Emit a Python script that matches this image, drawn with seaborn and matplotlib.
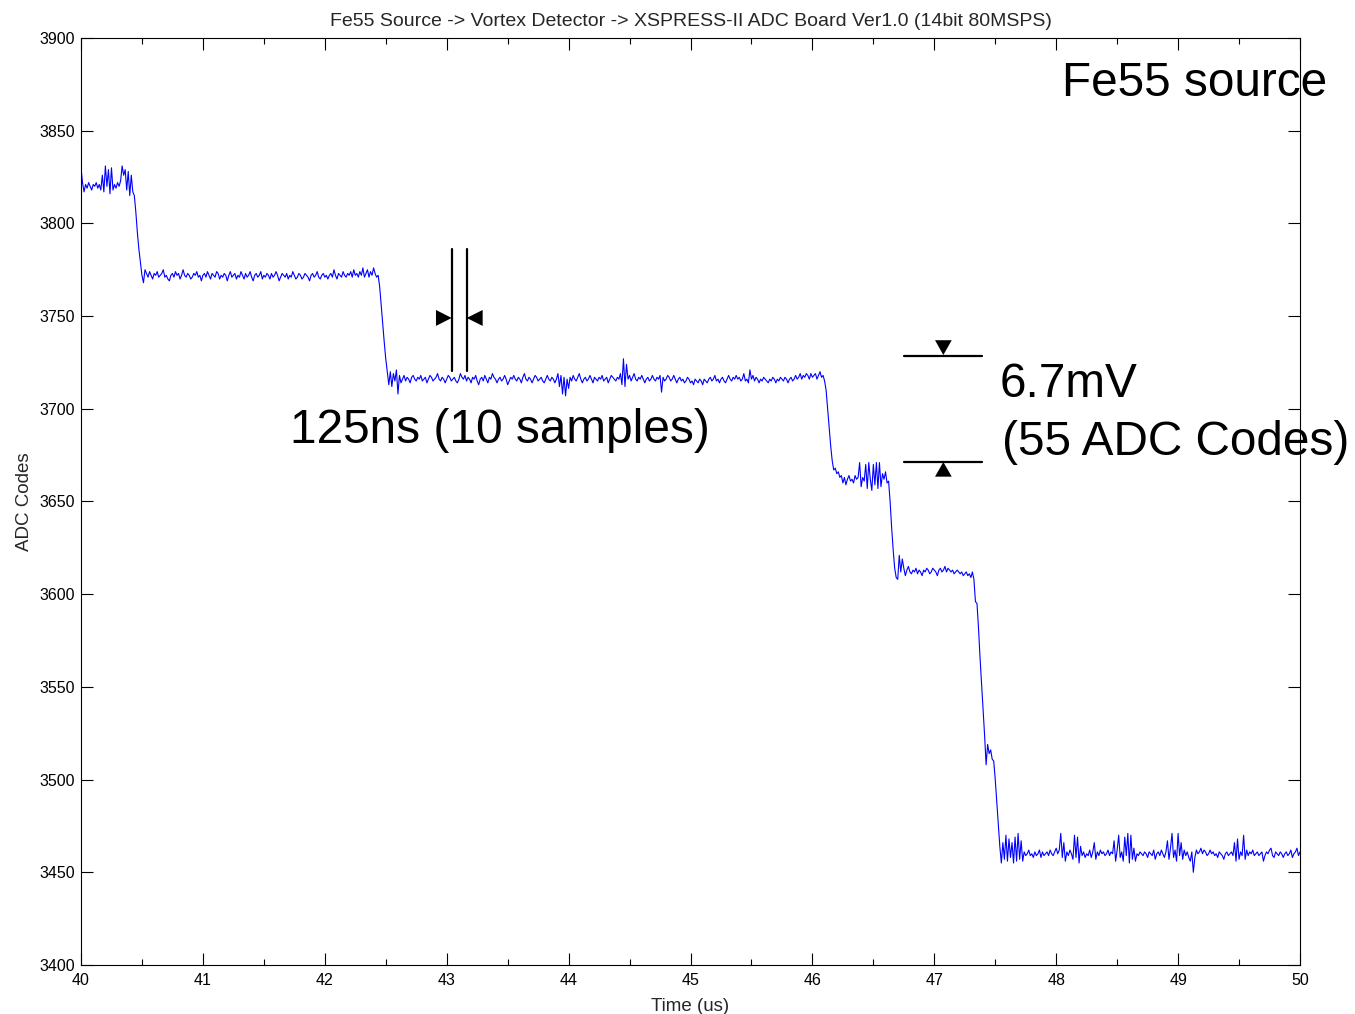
import numpy as np
import matplotlib
matplotlib.use("Agg")
import matplotlib.pyplot as plt
from matplotlib.ticker import MultipleLocator
import seaborn as sns

# ADC samples (80 MSPS -> 12.5 ns per sample, starting at 40 us)
t_start = 40.0
t_step = 0.0125

level_3820 = [3830, 3822, 3817, 3821, 3819, 3822, 3820, 3818, 3821, 3820,
              3822, 3819, 3821, 3818, 3826, 3817, 3831, 3820, 3829, 3816,
              3830, 3818, 3821, 3819, 3822, 3820, 3823, 3831, 3826, 3829,
              3818, 3828, 3815, 3826, 3817]
step_1 = [3815, 3806, 3795, 3786, 3779, 3772, 3768, 3775]
level_3772 = [3773, 3771, 3774, 3772, 3770, 3773, 3772, 3774, 3771, 3772,
              3773, 3775, 3771, 3772, 3770, 3769, 3772, 3773, 3771, 3774,
              3772, 3773, 3770, 3772, 3775, 3772, 3771, 3773, 3772, 3770,
              3771, 3773, 3772, 3774, 3771, 3772, 3769, 3772, 3773, 3771,
              3774, 3772, 3770, 3773, 3772, 3771, 3774, 3773, 3770, 3772,
              3771, 3773, 3772, 3769, 3772, 3774, 3771, 3772, 3773, 3770,
              3772, 3771, 3774, 3772, 3770, 3773, 3771, 3772, 3774, 3771,
              3769, 3772, 3773, 3771, 3772, 3774, 3770, 3772, 3771, 3773,
              3772, 3770, 3773, 3771, 3772, 3774, 3772, 3769, 3771, 3773,
              3772, 3771, 3773, 3770, 3772, 3771, 3774, 3772, 3770, 3771,
              3773, 3772, 3770, 3771, 3773, 3772, 3771, 3769, 3772, 3773,
              3771, 3772, 3774, 3771, 3770, 3772, 3773, 3771, 3772, 3770,
              3772, 3773, 3771, 3775, 3772, 3770, 3773, 3772, 3771, 3774,
              3772, 3771, 3773, 3772, 3774, 3771, 3775, 3772, 3773, 3771,
              3774, 3772, 3776, 3771, 3773, 3775, 3771, 3774, 3772, 3776,
              3773, 3771, 3772]
step_2 = [3766, 3756, 3746, 3736, 3727, 3720, 3713, 3720, 3712, 3719,
          3715, 3721, 3708, 3718, 3714]
level_3716 = [3716, 3718, 3715, 3717, 3716, 3714, 3717, 3718, 3716, 3715,
              3717, 3716, 3718, 3715, 3716, 3717, 3714, 3716, 3718, 3717,
              3715, 3716, 3717, 3719, 3716, 3715, 3717, 3716, 3714, 3716,
              3718, 3717, 3715, 3716, 3717, 3715, 3714, 3716, 3719, 3717,
              3716, 3718, 3715, 3717, 3716, 3714, 3717, 3716, 3718, 3715,
              3713, 3716, 3717, 3715, 3718, 3716, 3714, 3717, 3716, 3719,
              3717, 3716, 3714, 3716, 3717, 3715, 3716, 3718, 3716, 3713,
              3715, 3717, 3716, 3718, 3716, 3715, 3717, 3716, 3714, 3717,
              3719, 3716, 3715, 3717, 3716, 3714, 3716, 3718, 3717, 3715,
              3716, 3717, 3715, 3714, 3716, 3718, 3716, 3715, 3717, 3716,
              3714, 3716, 3719, 3712, 3718, 3708, 3717, 3707, 3716, 3711,
              3717, 3715, 3718, 3716, 3715, 3717, 3719, 3716, 3714, 3716,
              3717, 3715, 3716, 3718, 3716, 3714, 3717, 3716, 3715, 3717,
              3716, 3718, 3715, 3716, 3717, 3714, 3716, 3718, 3717, 3716,
              3715, 3717, 3716, 3719, 3713, 3727, 3712, 3724, 3716, 3718,
              3715, 3717, 3719, 3716, 3715, 3717, 3716, 3718, 3716, 3714,
              3716, 3717, 3715, 3716, 3718, 3716, 3715, 3717, 3716, 3718,
              3709, 3717, 3715, 3716, 3718, 3717, 3715, 3716, 3718, 3716,
              3714, 3716, 3717, 3715, 3716, 3714, 3715, 3717, 3716, 3714,
              3715, 3713, 3716, 3715, 3714, 3716, 3715, 3713, 3716, 3715,
              3714, 3716, 3717, 3715, 3716, 3718, 3715, 3716, 3714, 3716,
              3717, 3715, 3714, 3716, 3718, 3716, 3715, 3717, 3716, 3718,
              3716, 3717, 3715, 3716, 3719, 3715, 3716, 3714, 3721, 3716,
              3718, 3715, 3717, 3716, 3714, 3716, 3715, 3717, 3716, 3715,
              3714, 3716, 3715, 3717, 3716, 3714, 3716, 3715, 3717, 3716,
              3715, 3717, 3716, 3714, 3716, 3717, 3715, 3716, 3718, 3716,
              3717, 3719, 3716, 3718, 3717, 3719, 3718, 3716, 3719, 3717,
              3718, 3719, 3716, 3718, 3720, 3717, 3718, 3715]
step_3 = [3710, 3700, 3690, 3680, 3672, 3667, 3668]
level_3663 = [3665, 3666, 3663, 3664, 3660, 3663, 3659, 3662, 3664, 3661,
              3662, 3660, 3664, 3662, 3663, 3671, 3658, 3663, 3661, 3670,
              3657, 3671, 3662, 3656, 3670, 3659, 3671, 3657, 3671, 3658,
              3665, 3662, 3666, 3660]
step_4 = [3661, 3650, 3636, 3624, 3614, 3609]
level_3612 = [3608, 3621, 3612, 3619, 3614, 3610, 3613, 3615, 3612, 3611,
              3613, 3612, 3614, 3611, 3613, 3612, 3610, 3613, 3612, 3614,
              3613, 3611, 3612, 3614, 3613, 3612, 3610, 3613, 3614, 3612,
              3613, 3615, 3612, 3614, 3613, 3612, 3613, 3611, 3612, 3613,
              3612, 3611, 3612, 3610, 3611, 3612, 3610, 3611, 3609, 3612,
              3608]
step_5 = [3596, 3595, 3582, 3566, 3552, 3538, 3524, 3508, 3519, 3514,
          3516, 3511, 3510, 3500, 3488, 3476, 3464, 3455, 3466]
level_3460 = [3457, 3470, 3456, 3468, 3458, 3466, 3455, 3469, 3456, 3471,
              3457, 3467, 3456, 3461, 3459, 3460, 3462, 3459, 3460, 3458,
              3461, 3459, 3460, 3462, 3458, 3461, 3459, 3460, 3461, 3459,
              3462, 3460, 3459, 3461, 3463, 3460, 3462, 3471, 3458, 3466,
              3456, 3461, 3459, 3462, 3460, 3457, 3470, 3458, 3469, 3455,
              3464, 3459, 3461, 3458, 3460, 3459, 3462, 3458, 3461, 3466,
              3457, 3461, 3459, 3462, 3460, 3461, 3459, 3460, 3462, 3459,
              3461, 3460, 3467, 3456, 3462, 3470, 3458, 3461, 3456, 3469,
              3459, 3471, 3455, 3470, 3457, 3463, 3456, 3460, 3459, 3461,
              3460, 3459, 3461, 3460, 3458, 3461, 3460, 3459, 3462, 3457,
              3460, 3461, 3459, 3462, 3460, 3458, 3461, 3467, 3457, 3463,
              3471, 3458, 3462, 3456, 3471, 3459, 3466, 3457, 3462, 3459,
              3461, 3458, 3456, 3461, 3450, 3458, 3462, 3460, 3461, 3463,
              3460, 3462, 3461, 3459, 3460, 3462, 3460, 3461, 3459, 3460,
              3458, 3461, 3460, 3459, 3457, 3460, 3461, 3459, 3460, 3461,
              3459, 3466, 3456, 3468, 3457, 3461, 3459, 3470, 3457, 3462,
              3459, 3461, 3460, 3462, 3459, 3460, 3461, 3459, 3460, 3461,
              3456, 3459, 3461, 3460, 3462, 3463, 3459, 3458, 3461, 3460,
              3459, 3461, 3460, 3458, 3460, 3461, 3459, 3460, 3462, 3458,
              3460, 3461, 3463, 3459, 3461]

x_ticks = [40, 41, 42, 43, 44, 45, 46, 47, 48, 49, 50]
y_ticks = [3400, 3450, 3500, 3550, 3600, 3650, 3700, 3750, 3800, 3850, 3900]

title = "Fe55 Source -> Vortex Detector -> XSPRESS-II ADC Board Ver1.0 (14bit 80MSPS)"

adc = np.array(level_3820 + step_1 + level_3772 + step_2 + level_3716 + step_3
               + level_3663 + step_4 + level_3612 + step_5 + level_3460)
t_us = t_start + np.arange(len(adc)) * t_step

sns.set_style("ticks")
plt.rcParams["font.family"] = ["Liberation Sans", "DejaVu Sans"]

W, H = 1355, 1014
fig = plt.figure(figsize=(W / 100, H / 100), dpi=100)
ax = fig.add_axes([81 / W, 1 - 965 / H, (1300 - 81) / W, (965 - 38) / H])

sns.lineplot(x=t_us, y=adc, ax=ax, color="#0000ff", linewidth=0.8,
             estimator=None, sort=False)

ax.set_xlim(40, 50)
ax.set_ylim(3400, 3900)
ax.set_xticks(x_ticks)
ax.set_yticks(y_ticks)
ax.xaxis.set_minor_locator(MultipleLocator(0.5))
ax.tick_params(which="both", direction="in", top=True, right=True,
               colors="black", labelsize=11.5, width=0.8)
ax.tick_params(which="major", length=8.5)
ax.tick_params(which="minor", length=4.5)
ax.tick_params(axis="x", pad=6)
ax.tick_params(axis="y", pad=4)
for sp in ax.spines.values():
    sp.set_visible(True)
    sp.set_color("black")
    sp.set_linewidth(0.8)

ax.set_title(title, fontsize=14, pad=9)
ax.set_xlabel("Time (us)", fontsize=13.5, labelpad=7)
ax.set_ylabel("ADC Codes", fontsize=13.5, labelpad=5)

# 125 ns markers
for xv in [43.041, 43.164]:
    ax.plot([xv, xv], [3720.4, 3786.2], color="black", lw=1.6)
ax.fill([42.912, 42.912, 43.041], [3753.3, 3744.7, 3749.0], color="black", lw=0)
ax.fill([43.295, 43.295, 43.164], [3753.3, 3744.7, 3749.0], color="black", lw=0)

# 55 code markers
for yv in [3728.6, 3671.5]:
    ax.plot([46.754, 47.389], [yv, yv], color="black", lw=1.6)
ax.fill([47.006, 47.143, 47.074], [3737.0, 3737.0, 3729.0], color="black", lw=0)
ax.fill([47.006, 47.143, 47.074], [3663.4, 3663.4, 3671.3], color="black", lw=0)


def px(x, y):
    return x / W, 1 - y / H


big = dict(fontsize=34.4, color="black", va="baseline", ha="left")
fig.text(*px(1062, 96), "Fe55 source", **big)
fig.text(*px(290, 443), "125ns (10 samples)", **big)
fig.text(*px(1000, 397), "6.7mV", **big)
fig.text(*px(1002, 455), "(55 ADC Codes)", **big)

fig.savefig("out.png", dpi=100)
